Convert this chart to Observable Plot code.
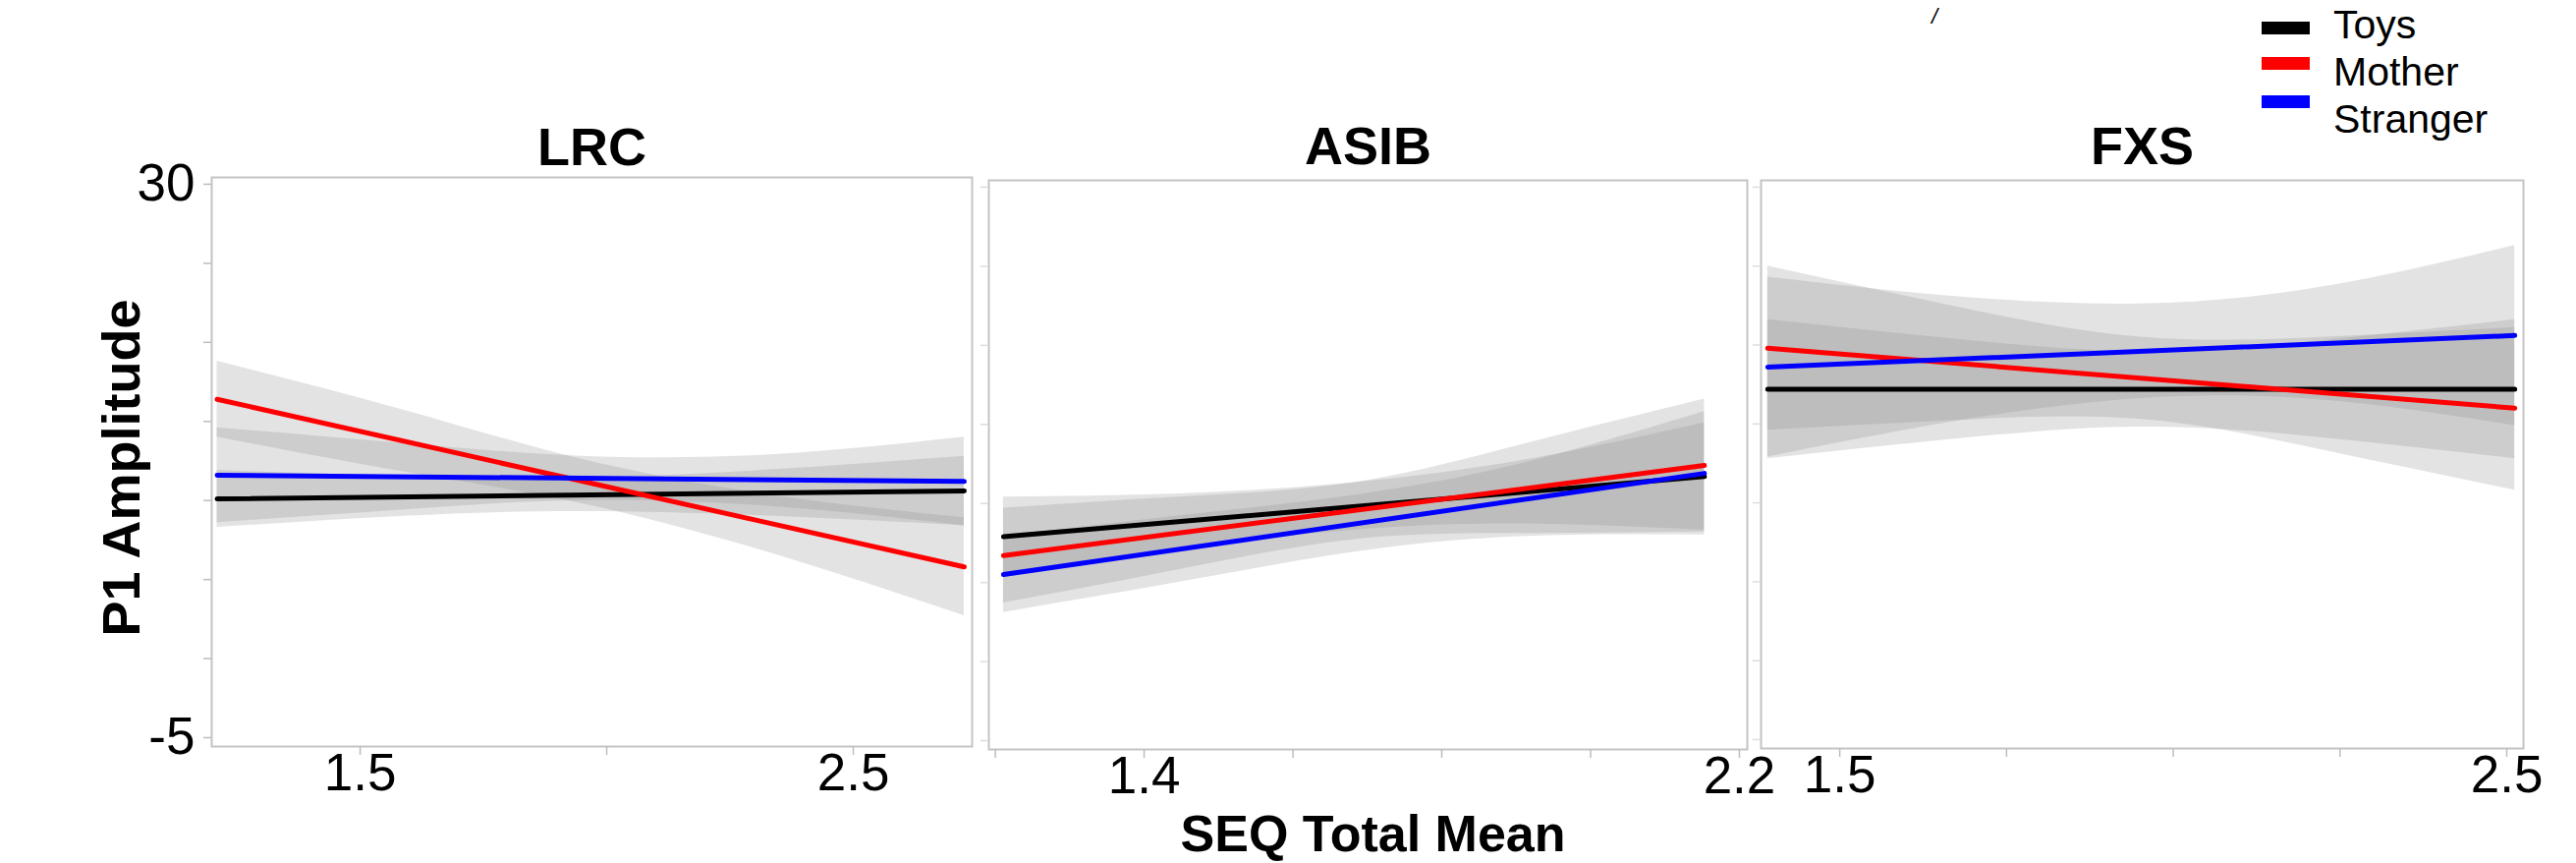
<!DOCTYPE html>
<html>
<head>
<meta charset="utf-8">
<script src="https://cdn.jsdelivr.net/npm/d3@7"></script>
<script src="https://cdn.jsdelivr.net/npm/@observablehq/plot@0.6"></script>
<style>
html, body { margin: 0; padding: 0; background: #fff; }
#root { position: relative; width: 2622px; height: 878px; overflow: hidden; font-family: "Liberation Sans", Arial, sans-serif; }
.panel { position: absolute; top: 0; }
#overlay { position: absolute; left: 0; top: 0; pointer-events: none; }
</style>
</head>
<body>
<div id="root"></div>
<script>
// ---------- data ----------
const groups = ["LRC", "ASIB", "FXS"];
const series = ["Toys", "Mother", "Stranger"];
const seriesColors = ["#000000", "#ff0000", "#0000ff"];

const yTicks = [-5, 0, 5, 10, 15, 20, 25, 30];
const yTickLabels = [30, -5];

const lrcXTicks = [1.5, 2.0, 2.5];
const lrcXLabels = [1.5, 2.5];
const asibXTicks = [1.2, 1.4, 1.6, 1.8, 2.0, 2.2];
const asibXLabels = [1.4, 2.2];
const fxsXTicks = [1.5, 1.75, 2.0, 2.25, 2.5];
const fxsXLabels = [1.5, 2.5];

// fitted lines (start, end)
const lrcLineX = [1.21, 2.725];
const lrcToys = [10.1, 10.6];
const lrcMother = [16.4, 5.8];
const lrcStranger = [11.6, 11.2];

const asibLineX = [1.211, 2.153];
const asibToys = [7.9, 11.7];
const asibMother = [6.7, 12.4];
const asibStranger = [5.5, 11.9];

const fxsLineX = [1.392, 2.512];
const fxsToys = [17.2, 17.2];
const fxsMother = [19.8, 16.0];
const fxsStranger = [18.6, 20.6];

// confidence bands (lower / upper)
const lrcBandX = [1.21, 1.59, 1.95, 2.34, 2.725];
const lrcToysLo = [8.3, 9.0, 9.3, 9.0, 8.4];
const lrcToysHi = [11.9, 11.5, 11.4, 11.95, 12.8];
const lrcMotherLo = [14.0, 11.8, 9.8, 6.6, 2.7];
const lrcMotherHi = [18.8, 15.7, 12.6, 10.3, 8.9];
const lrcStrangerLo = [8.6, 9.4, 10.0, 9.6, 8.4];
const lrcStrangerHi = [14.6, 13.6, 12.8, 12.9, 14.0];

const asibBandX = [1.211, 1.446, 1.68, 1.906, 2.153];
const asibToysLo = [5.4, 7.1, 8.3, 8.7, 8.3];
const asibToysHi = [10.4, 10.6, 11.3, 12.7, 15.1];
const asibMotherLo = [3.7, 5.8, 7.7, 8.1, 8.2];
const asibMotherHi = [9.7, 10.4, 11.3, 13.7, 16.6];
const asibStrangerLo = [3.1, 5.0, 6.9, 7.9, 8.0];
const asibStrangerHi = [7.9, 9.2, 10.5, 12.5, 15.8];

const fxsBandX = [1.392, 1.665, 1.95, 2.228, 2.512];
const fxsToysLo = [12.8, 14.0, 14.8, 14.1, 12.8];
const fxsToysHi = [21.6, 20.4, 19.6, 20.3, 21.6];
const fxsMotherLo = [14.6, 15.2, 15.3, 13.3, 10.8];
const fxsMotherHi = [25.0, 22.5, 20.5, 20.5, 21.1];
const fxsStrangerLo = [12.9, 15.1, 16.6, 16.5, 14.9];
const fxsStrangerHi = [24.3, 23.1, 22.6, 23.7, 26.3];

const yTitle = "P1 Amplitude";
const xTitle = "SEQ Total Mean";

// ---------- drawing ----------
const FONT = "'Liberation Sans', Arial, Helvetica, sans-serif";
const root = document.getElementById("root");

function makeRows(lineX, lines, bandX, bands) {
  const lineRows = series.flatMap((s, i) => lineX.map((x, j) => ({series: s, x, y: lines[i][j]})));
  const bandRows = series.flatMap((s, i) => bandX.map((x, j) => ({series: s, x, lo: bands[i][0][j], hi: bands[i][1][j]})));
  return {lineRows, bandRows};
}

function panel(cfg) {
  const {lineRows, bandRows} = makeRows(cfg.lineX, cfg.lines, cfg.bandX, cfg.bands);
  const marks = [
    Plot.areaY(bandRows, {x: "x", y1: "lo", y2: "hi", z: "series", fill: "#8a8a8a", fillOpacity: 0.24, curve: "natural"}),
    Plot.frame({stroke: "#c4c4c4", strokeWidth: 2}),
    Plot.line(lineRows, {x: "x", y: "y", z: "series", stroke: "series", strokeWidth: 5}),
    Plot.axisX({ticks: cfg.xTicks, tickFormat: d => cfg.xLabels.some(v => Math.abs(v - d) < 1e-9) ? String(d) : "",
      tickSize: 9, tickPadding: -2, stroke: "#bdbdbd", strokeWidth: 1.5, fontSize: 53, label: null}),
    Plot.axisY({ticks: yTicks, tickFormat: cfg.first ? (d => yTickLabels.includes(d) ? String(d) : "") : (() => ""),
      tickSize: 8, tickPadding: 9, stroke: cfg.first ? "#bdbdbd" : "#dddddd", strokeWidth: 1.5, fontSize: 53, label: null}),
    Plot.text([cfg.title], {frameAnchor: "top", lineAnchor: "bottom", dy: cfg.titleDy, fontSize: 54, fontWeight: "bold", text: d => d})
  ];
  if (cfg.first) {
    marks.push(Plot.text([yTitle], {frameAnchor: "left", rotate: -90, lineAnchor: "bottom", textAnchor: "middle",
      dx: -74, dy: 6, fontSize: 54, fontWeight: "bold", text: d => d}));
  }
  if (cfg.xTitle) {
    marks.push(Plot.text([xTitle], {frameAnchor: "bottom", lineAnchor: "bottom", dy: 103, dx: 5,
      fontSize: 52, fontWeight: "bold", text: d => d}));
  }
  const chart = Plot.plot({
    width: cfg.width,
    height: 878,
    marginLeft: cfg.marginLeft,
    marginRight: cfg.marginRight,
    marginTop: cfg.marginTop,
    marginBottom: cfg.marginBottom,
    x: {domain: cfg.xDomain},
    y: {domain: [-5.56, 30.43]},
    color: {domain: series, range: seriesColors},
    style: {fontFamily: FONT, background: "transparent", overflow: "visible", color: "#000"},
    marks
  });
  chart.classList.add("panel");
  chart.style.left = cfg.left + "px";
  root.appendChild(chart);
}

panel({
  left: 0, width: 995, marginLeft: 215, marginRight: 6, marginTop: 180, marginBottom: 119,
  xDomain: [1.199, 2.741], xTicks: lrcXTicks, xLabels: lrcXLabels, title: groups[0], titleDy: -13,
  lineX: lrcLineX, lines: [lrcToys, lrcMother, lrcStranger],
  bandX: lrcBandX, bands: [[lrcToysLo, lrcToysHi], [lrcMotherLo, lrcMotherHi], [lrcStrangerLo, lrcStrangerHi]],
  first: true
});
panel({
  left: 995, width: 790, marginLeft: 11, marginRight: 7, marginTop: 183, marginBottom: 116,
  xDomain: [1.1913, 2.2106], xTicks: asibXTicks, xLabels: asibXLabels, title: groups[1], titleDy: -17,
  lineX: asibLineX, lines: [asibToys, asibMother, asibStranger],
  bandX: asibBandX, bands: [[asibToysLo, asibToysHi], [asibMotherLo, asibMotherHi], [asibStrangerLo, asibStrangerHi]],
  xTitle: true
});
panel({
  left: 1785, width: 837, marginLeft: 7, marginRight: 54, marginTop: 183, marginBottom: 117,
  xDomain: [1.382, 2.525], xTicks: fxsXTicks, xLabels: fxsXLabels, title: groups[2], titleDy: -17,
  lineX: fxsLineX, lines: [fxsToys, fxsMother, fxsStranger],
  bandX: fxsBandX, bands: [[fxsToysLo, fxsToysHi], [fxsMotherLo, fxsMotherHi], [fxsStrangerLo, fxsStrangerHi]]
});

// ---------- legend (top right) ----------
const overlay = d3.select(root).append("svg")
  .attr("id", "overlay").attr("width", 2622).attr("height", 878)
  .style("font-family", FONT);
const swatchTop = [22, 58, 97];
const labelBase = [39, 87, 135];
series.forEach((s, i) => {
  overlay.append("rect").attr("x", 2302).attr("y", swatchTop[i]).attr("width", 49).attr("height", 13).attr("fill", seriesColors[i]);
  overlay.append("text").attr("x", 2375).attr("y", labelBase[i]).attr("font-size", 41).attr("fill", "#000").text(s);
});
overlay.append("text").attr("x", 1966).attr("y", 24).attr("font-size", 22).attr("font-style", "italic").attr("fill", "#000").text("/");
</script>
</body>
</html>
